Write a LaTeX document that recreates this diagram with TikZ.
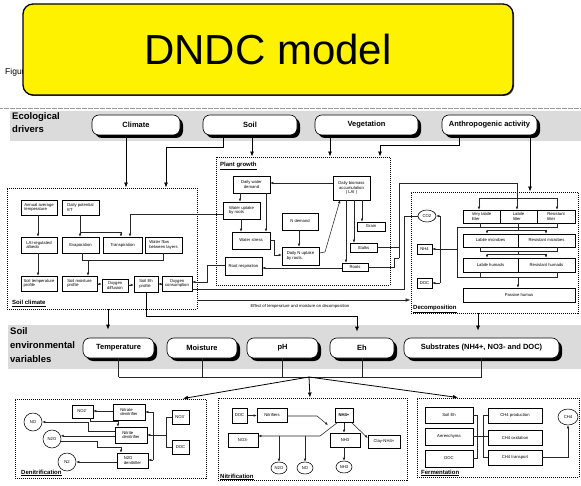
\documentclass[tikz,border=0pt]{standalone}
\usepackage{fontspec}
\setmainfont{Liberation Sans}
\usetikzlibrary{arrows.meta,shapes.geometric,shadows,calc}

\newcommand\fsbox{\fontsize{4.2}{4.8}\selectfont}
\newcommand\fsgrp{\fontsize{6}{7}\selectfont\bfseries}
\newcommand\fsdrv{\fontsize{7.5}{9}\selectfont\bfseries}
\newcommand\fsband{\fontsize{9.5}{13}\selectfont\bfseries}

% rectangular box given by its corners: name, x1, y1, x2, y2, text
\newcommand\bxn[7][]{%
  \node[bx,#1,minimum width={((#5)-(#3))*1pt},minimum height={((#6)-(#4))*1pt}]
    (#2) at ({((#3)+(#5))/2},{((#4)+(#6))/2}) {#7};}

\begin{document}
\begin{tikzpicture}[x=1pt,y=-1pt,
  bx/.style={draw=black,line width=0.55pt,fill=white,inner sep=0pt,align=center,font=\fsbox},
  bxl/.style={align=left},
  grp/.style={draw=black,fill=none,line width=0.9pt,dash pattern=on 1pt off 1pt},
  grplbl/.style={font=\fsgrp,anchor=base west,inner sep=0pt},
  drv/.style={draw=black,line width=0.6pt,fill=white,rounded corners=7pt,inner sep=0pt,
    font=\fsdrv,minimum height=20pt,
    general shadow={fill=black,shadow xshift=3pt,shadow yshift=-3pt}},
  band/.style={fill=black!14},
  bandlbl/.style={font=\fsband,align=left,anchor=north west,inner sep=0pt},
  cn/.style={draw=black!85,line width=0.55pt},
  ar/.style={cn,-{Latex[length=3pt,width=2.6pt]}},
  ar2/.style={cn,-{Latex[length=5pt,width=3.6pt]}},
  bigar/.style={draw=black,line width=0.8pt,-{Latex[length=5pt,width=4pt]}},
  gas/.style={draw=black,line width=0.55pt,fill=white,inner sep=0pt,font=\fsbox},
]
\fill[white] (0,0) rectangle (581,486);
\useasboundingbox (0,0) rectangle (581,486);

% caption (partly covered by the title) and title
\node[anchor=base west,inner sep=0pt,font=\fontsize{8.5}{10}\selectfont] (figcap) at (5,75) {Figure 1};
\node[draw=black,line width=1.3pt,fill=yellow,rounded corners=10pt,minimum width=490pt,
  minimum height=91pt,inner sep=0pt,font=\fontsize{42}{48}\selectfont,
  general shadow={fill=black!70,shadow xshift=1pt,shadow yshift=-1pt}] (title) at (268,49.5) {DNDC model};
\draw[black!40,line width=0.5pt,dash pattern=on 0.5pt off 0.7pt] (0,108) -- (581,108);

% grey bands
\fill[band] (10,111) rectangle (581,141);
\fill[band] (8,325) rectangle (581,369);
\node[bandlbl] (ecolbl) at (12,112) {Ecological\\drivers};
\node[bandlbl,font=\fontsize{9.5}{14}\selectfont\bfseries] (envlbl) at (10,327) {Soil\\environmental\\variables};

% ecological drivers
\node[drv,minimum width=88pt] (climate) at (136,125) {Climate};
\node[drv,minimum width=94pt] (soil) at (250,125) {Soil};
\node[drv,minimum width=103pt] (veg) at (366.5,125) {Vegetation};
\node[drv,minimum width=95pt] (anthro) at (489.5,125) {Anthropogenic activity};

% soil environmental variables
\node[drv,minimum width=71pt] (temp) at (118.5,348) {Temperature};
\node[drv,minimum width=70pt] (moist) at (202,348) {Moisture};
\node[drv,minimum width=71pt] (envph) at (282.5,348) {pH};
\node[drv,minimum width=64pt] (eh) at (362,348) {Eh};
\node[drv,minimum width=155pt] (subs) at (481.5,348) {Substrates (NH4+, NO3- and DOC)};

% sub-model frames
\bxn[grp]{sclim}{7}{188}{197}{309}{}
\bxn[grp]{pgrow}{216}{157}{390}{285}{}
\bxn[grp]{decomp}{411}{192}{578}{313}{}
\bxn[grp]{denit}{15}{399}{206}{478}{}
\bxn[grp]{nitri}{218}{398}{407}{480}{}
\bxn[grp]{ferm}{417}{398}{579}{477}{}
\node[grplbl] (sclimlbl) at (12,305) {\underline{Soil climate}};
\node[grplbl] (pgrowlbl) at (220,167) {\underline{Plant growth}};
\node[grplbl] (decomplbl) at (413,310) {\underline{Decomposition}};
\node[grplbl] (denitlbl) at (21,474) {\underline{Denitrification}};
\node[grplbl] (nitrilbl) at (220,478) {\underline{Nitrification}};
\node[grplbl] (fermlbl) at (421,474) {\underline{Fermentation}};

% driver arrows
\draw[bigar] (climate.south -| 126,0) -- (sclim.north -| 126,0);
\draw[bigar] (soil.south -| 223,0) -- (223,147) -- (166,147) -- (sclim.north -| 166,0);
\draw[bigar] (soil.south -| 252,0) -- (pgrow.north -| 252,0);
\draw[bigar] (veg.south -| 330,0) -- (pgrow.north -| 330,0);
\draw[bigar] (anthro.south -| 459,0) -- (459,145) -- (380,145) -- (pgrow.north -| 380,0);
\draw[bigar] (anthro.south -| 530,0) -- (decomp.north -| 530,0);

% ---- soil climate
\bxn[bxl]{aat}{21}{200}{57}{215}{Annual average\\temperature}
\bxn[bxl]{dpet}{62}{200}{99}{215}{Daily potential\\ET}
\bxn[bxl]{lai}{21}{237}{57}{253}{LAI-regulated\\albedo}
\bxn{evap}{62}{237}{99}{253}{Evaporation}
\bxn{trans}{103}{237}{142}{253}{Transpiration}
\bxn[bxl]{wflow}{145}{237}{182}{253}{Water flow\\between layers}
\bxn[bxl]{stp}{21}{276}{57}{291}{Soil temperature\\profile}
\bxn[bxl]{smp}{62}{276}{97}{291}{Soil moisture\\profile}
\bxn{o2d}{102}{279}{128}{292}{Oxygen\\diffusion}
\bxn[bxl]{sehp}{134}{276}{158}{292}{Soil Eh\\profile}
\bxn{o2c}{162}{276}{192}{291}{Oxygen\\consumption}

\draw[ar] (aat.south -| 38,0) -- (lai.north -| 38,0);
\draw[ar] (lai.south -| 38,0) -- (stp.north -| 38,0);
\draw[cn] (dpet.south -| 80,0) -- (80,232) -- (121,232);
\draw[ar] (80,232) -- (evap.north -| 80,0);
\draw[ar] (121,232) -- (trans.north -| 121,0);
\draw[cn] (evap.south -| 82,0) -- (82,260) -- (163,260) -- (wflow.south -| 163,0);
\draw[ar] (88,260) -- (smp.north -| 88,0);
\draw[ar] (smp.east |- 0,284) -- (o2d.west |- 0,284);
\draw[ar] (o2d.east |- 0,285) -- (sehp.west |- 0,285);
\draw[ar] (o2c.west |- 0,284) -- (sehp.east |- 0,284);

% ---- plant growth
\bxn{wdem}{233}{176}{270}{193}{Daily water\\demand}
\bxn{biom}{333}{176}{370}{200}{Daily biomass\\accumulation\\( LAI )}
\bxn[bxl]{wup}{223}{202}{260}{219}{Water uptake\\by roots}
\bxn{ndem}{282}{213}{318}{230}{N demand}
\bxn{wstr}{232}{232}{270}{249}{Water stress}
\bxn{grain}{357}{222}{385}{231}{Grain}
\bxn[bxl]{nup}{282}{247}{319}{265}{Daily N uptake\\by roots.}
\bxn{stalk}{350}{243}{377}{252}{Stalks}
\bxn{roots}{342}{263}{368}{271}{Roots}
\bxn{rresp}{225}{257}{262}{275}{Root respiration}

\draw[ar] (biom.west |- 0,183) -- (wdem.east |- 0,183);
\draw[ar] (wdem.south -| 240,0) -- (wup.north -| 240,0);
\draw[ar] (wdem.south -| 266,0) -- (wstr.north -| 266,0);
\draw[ar] (wup.south -| 241,0) -- (wstr.north -| 241,0);
\draw[ar] (wstr.east |- 0,240) -- (274,240) -- (274,255) -- (nup.west |- 0,255);
\draw[ar] (ndem.south -| 299,0) -- (nup.north -| 299,0);
\draw[ar] (nup.east |- 0,253) -- (325,252) -- (biom.south -| 340,0);
\draw[ar] (biom.south -| 362,0) -- (grain.north -| 362,0);
\draw[ar] (biom.south -| 354,0) -- (stalk.north -| 354,0);
\draw[ar] (biom.south -| 346,0) -- (roots.north -| 346,0);
\draw[ar] (roots.west |- 0,268) -- (rresp.east |- 0,268);
\draw[ar] (wup.west |- 0,214) -| (trans.north -| 130,0);
\draw[ar] (rresp.west |- 0,265) -- (207,265) -- (207,282) -- (o2c.east |- 0,282);

% ---- decomposition
\node[gas,ellipse,minimum width=18pt,minimum height=12pt] (co2) at (427,216) {CO2};
\bxn{nh4}{417}{244}{432}{254}{NH4}
\bxn{doca}{417}{278}{432}{288}{DOC}
\bxn[bxl]{vll}{463}{210}{500}{223}{Very labile\\litter}
\bxn[bxl]{ll}{500}{210}{537}{223}{Labile\\litter}
\bxn[bxl]{rl}{537}{210}{575}{223}{Resistant\\litter}
\bxn{lm}{463}{234}{518}{247}{Labile microbes}
\bxn{rm}{518}{234}{575}{247}{Resistant microbes}
\bxn{lh}{463}{258}{518}{272}{Labile humads}
\bxn{rh}{518}{258}{575}{272}{Resistant humads}
\bxn{phum}{463}{288}{575}{302}{Passive humus}

% residues to litter
\draw[cn] (roots.east |- 0,267) -- (394,267) -- (394,258) -- (399,258);
\draw[cn] (stalk.east |- 0,247) -- (399,247);
\draw[cn] (399,258) -- (399,183) -- (517,183) -- (517,198);
\draw[cn] (479,198) -- (557,198);
\draw[ar] (479,198) -- (vll.north -| 479,0);
\draw[ar] (517,198) -- (ll.north -| 517,0);
\draw[ar] (557,198) -- (rl.north -| 557,0);
% pool cascade
\draw[cn] (vll.south -| 480,0) -- (480,227) -- (557,227) -- (rl.south -| 557,0);
\draw[cn] (ll.south -| 518,0) -- (518,230);
\draw[cn] (487,230) -- (546,230);
\draw[ar] (487,230) -- (lm.north -| 487,0);
\draw[ar] (546,230) -- (rm.north -| 546,0);
\draw[cn] (lm.south -| 480,0) -- (480,251) -- (557,251) -- (rm.south -| 557,0);
\draw[cn] (518,251) -- (518,254);
\draw[cn] (487,254) -- (546,254);
\draw[ar] (487,254) -- (lh.north -| 487,0);
\draw[ar] (546,254) -- (rh.north -| 546,0);
\draw[cn] (lh.south -| 480,0) -- (480,277) -- (557,277) -- (rh.south -| 557,0);
\draw[ar] (518,277) -- (phum.north -| 518,0);
\draw[cn] (480,227) -- (457,227) -- (457,277) -- (480,277);
\draw[cn] (457,249) -- (440,249);
\draw[cn] (440,216) -- (440,283);
\draw[ar] (440,216) -- (co2.east);
\draw[ar] (440,249) -- (nh4.east |- 0,249);
\draw[ar] (440,283) -- (doca.east |- 0,283);

% soil climate to decomposition
\draw[cn] (o2c.east |- 0,289) -- (404,289) -- (404,216) -- (co2.west);
\draw[ar2] (sclim.east |- 0,300) -- (decomp.west |- 0,300);
\node[font=\fsbox,anchor=base,inner sep=0pt] (efftxt) at (300,308) {Effect of temperature and moisture on decomposition};

% arrows into the variables row
\draw[bigar] (sclim.south -| 108,0) -- ($(temp.north -| 108,0)+(0,-8)$);
\draw[bigar] (sehp.south -| 146,0) -- (146,316) -- (357,316) -- ($(eh.north -| 357,0)+(0,-6)$);
\draw[bigar] (decomp.south -| 478,0) -- ($(subs.north -| 478,0)+(0,-7)$);

% variables to the three process modules
\foreach \n in {temp,moist,envph,eh,subs} \draw[cn,line width=0.7pt] (\n.south) -- (\n.south |- 0,377);
\draw[cn,line width=0.7pt] (temp.south |- 0,377) -- (subs.south |- 0,377);
\coordinate (hub) at (309,377);
\draw[bigar] (hub) -- (denit.north -| 183,0);
\draw[bigar] (hub) -- (nitri.north -| 310,0);
\draw[bigar] (hub) -- (ferm.north -| 458,0);

% ---- denitrification
\node[gas,circle,minimum size=18pt] (no) at (33,422) {NO};
\node[gas,circle,minimum size=18pt] (ntwoo) at (52,439) {N2O};
\node[gas,circle,minimum size=18pt] (ntwo) at (67,462) {N2};
\bxn{notwo}{72}{405}{93}{418}{NO2\textsuperscript{-}}
\bxn[bxl]{natd}{113}{404}{145}{420}{Nitrate\\denitrifier}
\bxn[bxl]{nitd}{115}{427}{147}{443}{Nitrite\\denitrifier}
\bxn[bxl]{ntwood}{117}{453}{148}{468}{N2O\\denitrifier}
\bxn{nothree}{172}{410}{189}{424}{NO3\textsuperscript{-}}
\bxn{docb}{172}{440}{189}{454}{DOC}

\draw[ar] (natd.west |- 0,411) -- (notwo.east |- 0,411);
\draw[ar] (notwo.south -| 90,0) -- (90,421) -- (118,421) -- (nitd.north -| 118,0);
\draw[ar] (nitd.west |- 0,431) -- (88,431) -- (88,422) -- (no.east);
\draw[ar] (nitd.west |- ntwoo.20) -- (ntwoo.20);
\draw[ar] (ntwoo.345) -- (ntwoo.345 -| 97,0) -- (97,447) -- (121,447) -- (ntwood.north -| 121,0);
\draw[ar] (ntwood.west |- ntwo.east) -- (ntwo.east);
\draw[cn] (153,412) -- (153,460);
\draw[ar] (153,412) -- (natd.east |- 0,412);
\draw[ar] (153,435) -- (nitd.east |- 0,435);
\draw[ar] (153,460) -- (ntwood.east |- 0,460);
\draw[cn] (153,435) -- (166,435);
\draw[cn] (nothree.west) -- (166,417) -- (166,447) -- (docb.west);

% ---- nitrification
\bxn[line width=1pt]{docc}{232}{408}{247}{423}{DOC}
\bxn{nitr}{257}{408}{287}{422}{Nitrifiers}
\bxn[line width=1pt]{nhfour}{335}{408}{353}{422}{\textbf{NH4+}}
\bxn{nothreeb}{228}{433}{258}{447}{NO3-}
\bxn{nhthree}{330}{433}{360}{447}{NH3}
\bxn{clay}{368}{435}{400}{448}{Clay-NH4+}
\node[gas,ellipse,minimum width=16pt,minimum height=12pt] (ntwoob) at (279,468) {N2O};
\node[gas,ellipse,minimum width=16pt,minimum height=12pt] (nob) at (305,468) {NO};
\node[gas,ellipse,minimum width=16pt,minimum height=12pt] (nhthreeg) at (344,467) {NH3};

\draw[ar] (docc.east) -- (nitr.west |- docc.east);
\draw[ar] (nitr.east |- 0,416) -- (317,416) -- (328,425);
\draw[ar] ($(nhfour.south west)+(3,0)$) -- (320,436) -- (nothreeb.east |- 0,436);
\draw[ar] (279,436) -- (ntwoob.north);
\draw[ar] (305,436) -- (nob.north);
\draw[ar] (nhfour.south -| 344,0) -- (nhthree.north -| 344,0);
\draw[ar] ($(nhfour.south east)+(-2,0)$) -- (clay.west |- 0,438);
\draw[ar] (nhthree.south -| 344,0) -- (nhthreeg.north);

% ---- fermentation
\bxn{seh}{425}{407}{473}{423}{Soil Eh}
\bxn{aer}{425}{428}{473}{445}{Aerenchyma}
\bxn{docd}{425}{450}{473}{467}{DOC}
\bxn{chp}{488}{408}{542}{423}{CH4 production}
\bxn{cho}{488}{430}{542}{445}{CH4 oxidation}
\bxn{cht}{488}{450}{542}{465}{CH4 transport}
\node[gas,ellipse,minimum width=20pt,minimum height=16pt] (ch) at (568,417) {CH4};

\draw[cn] (seh.east) -- (477,415) -- (477,458.5) -- (docd.east);
\draw[cn] (aer.east) -- (cho.west |- aer.east);
\draw[cn] (chp.west) -- (483,415.5) -- (483,457.5) -- (cht.west);
\draw[ar] (cht.east) -| (ch.south);
\end{tikzpicture}
\end{document}
